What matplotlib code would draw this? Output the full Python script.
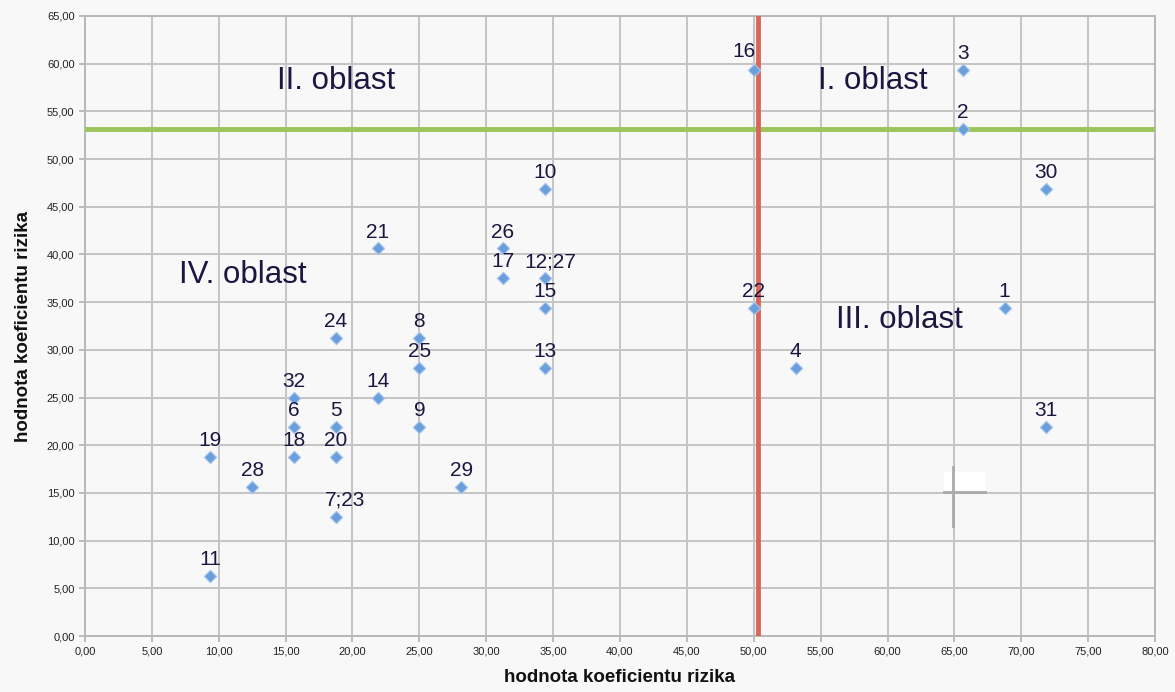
import matplotlib
matplotlib.use("Agg")
import matplotlib.pyplot as plt
from matplotlib.ticker import FuncFormatter, MultipleLocator
from matplotlib.patches import Rectangle

plt.rcParams['font.family'] = ['Liberation Sans', 'DejaVu Sans']

labels = ["1", "2", "3", "4", "5", "6", "7;23", "8", "9", "10", "11", "12;27",
          "13", "14", "15", "16", "17", "18", "19", "20", "21", "22", "24", "25",
          "26", "28", "29", "30", "31", "32"]
x_vals = [68.75, 65.625, 65.625, 53.125, 18.75, 15.625, 18.75, 25.0, 25.0, 34.375,
          9.375, 34.375, 34.375, 21.875, 34.375, 50.0, 31.25, 15.625, 9.375, 18.75,
          21.875, 50.0, 18.75, 25.0, 31.25, 12.5, 28.125, 71.875, 71.875, 15.625]
y_vals = [34.375, 53.125, 59.375, 28.125, 21.875, 21.875, 12.5, 31.25, 21.875, 46.875,
          6.25, 37.5, 28.125, 25.0, 34.375, 59.375, 37.5, 18.75, 18.75, 18.75,
          40.625, 34.375, 31.25, 28.125, 40.625, 15.625, 15.625, 46.875, 21.875, 25.0]
x_threshold = 50.3
y_threshold = 53.125
regions = ["I. oblast", "II. oblast", "III. oblast", "IV. oblast"]
region_pos = [(58.9, 58.2), (18.8, 58.2), (60.9, 33.1), (11.8, 37.8)]
x_label = "hodnota koeficientu rizika"
y_label = "hodnota koeficientu rizika"

bg = "#f8f8f8"
txt = "#1c1640"
fig = plt.figure(figsize=(11.75, 6.92), dpi=100, facecolor=bg)
ax = fig.add_axes([0.0723, 0.0809, 0.9107, 0.896])
ax.set_facecolor(bg)

ax.set_xlim(0, 80)
ax.set_ylim(0, 65)
ax.xaxis.set_major_locator(MultipleLocator(5))
ax.yaxis.set_major_locator(MultipleLocator(5))
fmt = FuncFormatter(lambda v, p: f"{v:.2f}".replace(".", ","))
ax.xaxis.set_major_formatter(fmt)
ax.yaxis.set_major_formatter(fmt)
ax.tick_params(labelsize=8, colors="#b0b0b0", labelcolor="#222222", length=4, width=1.2)
ax.grid(True, color="#c4c4c4", linewidth=1.4)
ax.set_axisbelow(True)
for s in ax.spines.values():
    s.set_color("#b8b8b8")
    s.set_linewidth(1.4)

ax.axhline(y_threshold, color="#9bc45a", linewidth=3.5, zorder=3)
ax.axvline(x_threshold, color="#d9665a", linewidth=3.5, zorder=3)

ax.scatter(x_vals, y_vals, marker="D", s=40, color="#6a9fdc", edgecolor="#a9c8ee",
           linewidth=0.8, zorder=4)

offsets = {"16": (-7, 6), "7;23": (7, 5), "12;27": (4, 5)}
for lab, xv, yv in zip(labels, x_vals, y_vals):
    dx, dy = offsets.get(lab, (0, 5))
    ax.annotate(lab, (xv, yv), xytext=(dx, dy), textcoords="offset points",
                ha="center", va="bottom", fontsize=15, color=txt, zorder=5)

for r, (rx, ry) in zip(regions, region_pos):
    ax.text(rx, ry, r, ha="center", va="center", fontsize=22.5, color=txt, zorder=5)

# cursor artifact present in the reference screenshot
ax.add_patch(Rectangle((64.2, 15.1), 3.1, 2.1, facecolor="white", edgecolor="none", zorder=3))
ax.plot([64.9, 64.9], [11.5, 17.7], color="#aaaaaa", lw=2, zorder=3)
ax.plot([64.2, 67.3], [15.1, 15.1], color="#aaaaaa", lw=2, zorder=3)

ax.set_xlabel(x_label, fontsize=13.5, fontweight="bold", color="#111111", labelpad=9)
ax.set_ylabel(y_label, fontsize=13.5, fontweight="bold", color="#111111", labelpad=11)

fig.savefig("out.png", dpi=100, facecolor=bg)
